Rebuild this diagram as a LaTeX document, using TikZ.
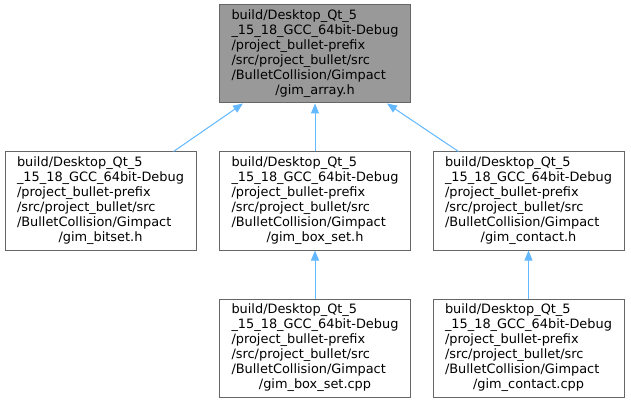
\documentclass[tikz,border=0pt]{standalone}
\usepackage{fontspec}
\setmainfont{DejaVu Sans}
\usetikzlibrary{arrows.meta}
\definecolor{edgec}{HTML}{63B8FF}
\definecolor{brd}{HTML}{666666}
\definecolor{topfill}{HTML}{999999}
\newcommand\gimlbl[1]{\begin{tabular}{@{}l@{}}build/Desktop\_Qt\_5\\\_15\_18\_GCC\_64bit-Debug\\/project\_bullet-prefix\\/src/project\_bullet/src\\/BulletCollision/Gimpact\\\multicolumn{1}{@{}c@{}}{/#1}\end{tabular}}
\begin{document}
\begin{tikzpicture}[x=1pt,y=-1pt,
  filebox/.style={draw=brd, line width=1pt, fill=white, inner sep=0pt,
    minimum width=191pt, minimum height=98pt,
    font=\fontsize{12.9}{15}\selectfont},
  edge/.style={draw=edgec, line width=1pt, -{Triangle[length=10pt,width=8pt]}, fill=edgec}]
\useasboundingbox (0,0) rectangle (631,403);
\node[filebox, fill=topfill] (t) at (315,54) {\gimlbl{gim\_array.h}};
\node[filebox] (l) at (100.5,201) {\gimlbl{gim\_bitset.h}};
\node[filebox] (m) at (315,201) {\gimlbl{gim\_box\_set.h}};
\node[filebox] (r) at (528.5,201) {\gimlbl{gim\_contact.h}};
\node[filebox] (mb) at (315,348) {\gimlbl{gim\_box\_set.cpp}};
\node[filebox] (rb) at (528.5,348) {\gimlbl{gim\_contact.cpp}};
\draw[edge] ([xshift=-23pt]l.north east) -- ([xshift=24pt]t.south west);
\draw[edge] (m) -- (t);
\draw[edge] ([xshift=26pt]r.north west) -- ([xshift=-24pt]t.south east);
\draw[edge] (mb) -- (m);
\draw[edge] (rb) -- (r);
\end{tikzpicture}
\end{document}
